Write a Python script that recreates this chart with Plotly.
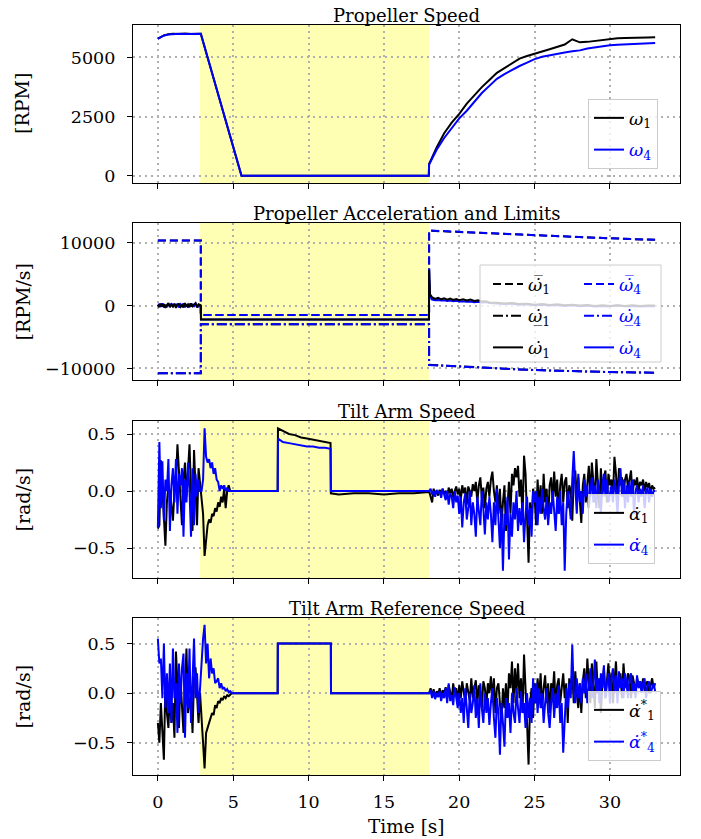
import numpy as np
import plotly.graph_objects as go

# ---------------- data ----------------
# Propeller speed [RPM]
omega_t = [0.0, 0.2, 0.4, 0.7, 1.0, 1.4, 1.8, 2.2, 2.6, 2.85, 5.55, 17.98, 18.0, 18.5, 19.0,
           19.5, 20.0, 20.5, 21.0, 21.5, 22.0, 22.5, 23.0, 23.5, 24.0, 24.5, 25.0, 25.5, 26.0, 26.5,
           27.0, 27.5, 28.0, 28.5, 29.0, 29.5, 30.0, 30.5, 31.0, 31.5, 32.0, 32.5, 33.0]
omega1 = [5800, 5870, 5930, 5980, 6000, 5990, 6010, 5990, 6010, 6000, 0, 0, 500, 1200, 1800,
          2250, 2620, 3050, 3400, 3750, 4050, 4350, 4550, 4750, 4950, 5060, 5170, 5250, 5350, 5450,
          5550, 5770, 5640, 5660, 5700, 5760, 5780, 5810, 5820, 5840, 5840, 5850, 5860]
omega4 = [5790, 5860, 5930, 5970, 5990, 6000, 5995, 6005, 5995, 6000, 0, 0, 480, 1100, 1600,
          2000, 2430, 2750, 3150, 3500, 3800, 4100, 4300, 4480, 4640, 4780, 4930, 5030, 5100, 5160,
          5210, 5260, 5300, 5380, 5430, 5450, 5520, 5540, 5560, 5580, 5590, 5600, 5610]

# Propeller acceleration limits [RPM/s]
lim_t = [0.0, 2.85, 2.85, 18.0, 18.0, 20.0, 22.0, 24.0, 26.0, 28.0, 30.0, 33.0]
upper1 = [10350, 10350, -1480, -1480, 11900, 11680, 11470, 11270, 11070, 10880, 10700, 10460]
upper4 = [10350, 10350, -1480, -1480, 11950, 11720, 11500, 11290, 11090, 10890, 10700, 10450]
lower1 = [-10770, -10770, -2970, -2970, -9420, -9700, -9940, -10150, -10320, -10460, -10570, -10670]
lower4 = [-10770, -10770, -2970, -2970, -9450, -9720, -9960, -10160, -10330, -10470, -10580, -10680]

# Propeller acceleration [RPM/s]
acc_pre_t = np.round(np.arange(0.0, 2.801, 0.1), 2)
acc1_pre = [150, -250, 300, -150, 250, -350, 100, 400, -250, 200,
            -150, 300, -350, 150, 250, -200, 100, -300, 400, -150,
            200, -250, 350, -100, 150, 400, -300, 200, 100]
acc4_pre = [-100, 300, -200, 350, -300, 150, -250, 300, -100, 350,
            -200, 250, -150, 300, -300, 200, -100, 350, -250, 150,
            -300, 300, -150, 250, -200, 350, 0, -150, 50]
acc_step_t = [2.85, 2.86, 17.99, 18.0, 18.06]
acc1_step = [0, -2200, -2200, 5700, 1800]
acc4_step = [0, -2220, -2220, 5900, 1500]
acc_post_t = [18.2, 18.4, 18.6, 18.8, 19.0, 19.2, 19.4, 19.6, 19.8, 20.0,
              20.25, 20.5, 20.75, 21.0, 21.25, 21.5, 21.75, 22.0, 22.5, 23.0,
              23.5, 24.0, 24.5, 25.0, 25.5, 26.0, 26.5, 27.0, 27.5, 28.0,
              28.5, 29.0, 29.5, 30.0, 30.5, 31.0, 31.5, 32.0, 32.5, 33.0]
acc1_post = [1300, 1050, 1250, 1000, 1150, 950, 1100, 900, 1050, 850,
             1000, 800, 950, 750, 850, 650, 700, 500, 450, 350,
             400, 250, 300, 150, 250, 100, 200, 50, 150, 0,
             100, -50, 50, -50, 50, -50, 50, -50, 0, 0]
acc4_post = [950, 850, 900, 800, 850, 750, 800, 700, 750, 650,
             700, 600, 650, 550, 600, 500, 550, 400, 350, 250,
             300, 150, 200, 50, 150, 0, 100, -50, 50, -100,
             0, -150, -50, -100, 0, -100, -50, -150, -50, -100]

# Tilt arm speed [rad/s]
tA = np.round(np.arange(0.0, 5.001, 0.1), 2)
tB = np.round(np.arange(18.0, 33.001, 0.1), 2)
alpha1_A = [-0.33, -0.3, 0.27, 0.0, -0.2, -0.48, -0.1, 0.05, 0.0, -0.15,
            -0.26, 0.0, 0.1, 0.41, 0.2, -0.1, -0.3, 0.1, 0.25, -0.05,
            0.15, 0.41, 0.0, -0.35, 0.36, 0.05, -0.3, 0.2, 0.05, -0.1,
            -0.2, -0.57, -0.4, -0.3, -0.25, -0.28, -0.2, -0.22, -0.15, -0.18,
            -0.1, -0.14, -0.05, -0.1, 0.02, -0.15, 0.0, 0.05, 0.0, 0.0, 0.0]
alpha4_A = [-0.32, 0.43, -0.15, 0.26, -0.26, 0.1, 0.0, 0.28, -0.35, 0.05,
            0.2, -0.1, 0.28, -0.2, 0.15, 0.05, 0.2, -0.4, 0.1, -0.1,
            0.25, 0.0, -0.4, 0.2, -0.3, 0.15, -0.05, 0.1, 0.0, 0.0,
            0.1, 0.55, 0.3, 0.25, 0.28, 0.2, 0.25, 0.15, 0.2, 0.1,
            0.08, 0.0, 0.05, 0.02, 0.05, 0.0, 0.03, 0.0, 0.0, 0.0, 0.0]
alpha_mid_t = [5.0, 7.95, 7.97, 8.3, 8.7, 9.1, 9.5, 9.9, 10.3, 10.7, 11.1, 11.46, 11.48,
               12.0, 13.0, 14.0, 15.0, 16.0, 17.0, 17.95]
alpha1_mid = [0.0, 0.0, 0.55, 0.53, 0.5, 0.49, 0.47, 0.46, 0.45, 0.44, 0.43, 0.42, -0.02,
              -0.03, -0.02, -0.02, -0.03, -0.02, -0.02, -0.01]
alpha4_mid = [0.0, 0.0, 0.46, 0.43, 0.42, 0.41, 0.4, 0.39, 0.39, 0.38, 0.38, 0.37, 0.0,
              0.0, 0.0, 0.0, 0.0, 0.0, 0.0, 0.0]
alpha1_B = [0.0, -0.05, -0.1, 0.02, -0.03, 0.0, -0.04, 0.01, -0.02, 0.02, -0.03,
            0.0, -0.05, 0.03, -0.02, 0.02, -0.06, 0.0, 0.04, -0.03, 0.02,
            -0.08, 0.05, -0.02, 0.03, -0.12, 0.04, 0.0, -0.05, 0.06, 0.0,
            0.08, -0.1, 0.05, 0.12, -0.06, 0.03, -0.15, 0.02, 0.08, -0.05,
            0.1, 0.17, 0.0, -0.1, 0.05, -0.2, 0.02, -0.3, -0.1, 0.05,
            -0.35, -0.1, 0.08, -0.2, 0.15, 0.05, 0.2, 0.12, 0.22, -0.05,
            0.1, -0.25, 0.31, 0.15, -0.2, -0.63, -0.1, -0.3, 0.02, -0.05,
            -0.3, 0.1, -0.15, 0.05, -0.2, 0.15, -0.1, 0.02, -0.25, 0.05,
            0.12, -0.1, 0.17, -0.05, 0.1, -0.2, 0.05, 0.15, -0.1, 0.08,
            0.12, -0.15, 0.05, 0.0, -0.26, 0.1, 0.18, -0.05, 0.12, -0.1,
            -0.28, 0.05, 0.15, -0.1, 0.1, 0.22, -0.05, 0.25, 0.08, -0.1,
            0.28, 0.05, -0.15, 0.2, -0.05, 0.12, 0.18, -0.1, 0.15, 0.05,
            0.1, -0.05, 0.3, 0.15, -0.08, 0.2, 0.05, 0.12, -0.05, 0.1,
            0.15, 0.02, 0.12, 0.18, -0.05, 0.1, 0.05, 0.12, 0.0, 0.08,
            0.05, 0.1, 0.0, 0.08, 0.03, 0.07, -0.02, 0.05, 0.02, 0.03]
alpha4_B = [0.0, 0.02, -0.03, 0.0, -0.05, 0.01, -0.02, 0.0, -0.06, 0.02, -0.04,
            -0.08, 0.0, -0.12, -0.02, -0.05, -0.15, 0.0, -0.1, -0.04, -0.2,
            -0.05, -0.32, -0.1, -0.02, -0.25, -0.15, 0.0, -0.3, -0.1, -0.2,
            -0.4, -0.05, -0.2, -0.3, 0.0, -0.15, -0.38, -0.1, -0.25, -0.05,
            -0.2, -0.45, -0.1, -0.3, 0.02, -0.25, -0.5, -0.15, -0.7, -0.2,
            -0.3, -0.05, -0.6, -0.2, -0.4, -0.1, -0.25, 0.0, -0.35, -0.15,
            -0.3, -0.1, -0.45, -0.2, -0.05, -0.3, -0.15, -0.4, 0.0, -0.1,
            0.0, -0.3, -0.05, -0.2, 0.02, -0.15, -0.25, -0.05, -0.3, -0.1,
            -0.2, 0.0, -0.15, -0.35, -0.05, -0.2, 0.0, -0.3, -0.1, -0.7,
            -0.2, 0.0, -0.1, -0.25, 0.1, 0.35, 0.05, -0.2, 0.15, -0.1,
            0.0, -0.2, 0.1, -0.05, 0.05, -0.15, 0.0, 0.12, -0.1, 0.05,
            -0.15, 0.1, 0.0, -0.2, 0.05, 0.15, -0.05, 0.1, -0.1, 0.0,
            0.05, -0.1, 0.1, 0.0, -0.2, 0.05, 0.2, -0.05, 0.1, -0.15,
            0.05, -0.1, 0.08, -0.05, 0.1, -0.2, 0.0, 0.05, -0.1, 0.02,
            -0.05, 0.05, -0.15, 0.0, 0.03, -0.1, 0.02, -0.05, 0.0, 0.0]

# Tilt arm reference speed [rad/s]
ref1_A = [-0.3, -0.5, -0.1, -0.45, -0.67, 0.12, -0.2, -0.35, 0.0, -0.3,
          -0.1, -0.45, 0.42, 0.1, -0.35, 0.15, -0.1, -0.4, 0.1, 0.45,
          -0.2, -0.1, 0.0, -0.4, 0.15, 0.26, -0.1, -0.3, 0.0, -0.2,
          -0.5, -0.76, -0.4, -0.35, -0.3, -0.25, -0.2, -0.22, -0.12, -0.15,
          -0.08, -0.1, -0.05, -0.07, -0.03, -0.05, -0.02, -0.03, -0.01, 0.0, 0.0]
ref4_A = [0.55, 0.3, 0.35, -0.05, 0.5, -0.15, 0.2, -0.2, 0.3, -0.3,
          0.45, -0.05, 0.1, -0.4, 0.3, -0.1, 0.25, 0.4, -0.45, 0.2,
          -0.15, 0.45, -0.3, 0.1, 0.55, -0.05, 0.2, -0.2, 0.1, 0.3,
          0.55, 0.69, 0.3, 0.5, 0.15, 0.35, 0.2, 0.25, 0.1, 0.12,
          0.15, 0.05, 0.1, 0.04, 0.06, 0.02, 0.04, 0.01, 0.02, 0.0, 0.0]
ref_mid_t = [5.0, 7.95, 7.96, 11.48, 11.49, 17.95]
ref1_mid = [0.0, 0.0, 0.5, 0.5, 0.0, 0.0]
ref4_mid = [0.0, 0.0, 0.5, 0.5, 0.0, 0.0]
ref1_B = [0.0, 0.05, -0.03, 0.04, -0.05, 0.02, -0.02, 0.05, -0.04, 0.03, 0.0,
          0.06, -0.05, 0.08, 0.0, -0.06, 0.1, -0.02, 0.05, -0.08, 0.08,
          -0.05, 0.12, 0.0, -0.1, 0.1, 0.02, -0.08, 0.15, -0.05, 0.05,
          0.13, -0.1, 0.08, 0.0, -0.15, 0.12, 0.05, -0.12, 0.1, 0.0,
          0.17, -0.05, 0.15, -0.2, 0.05, 0.1, -0.1, -0.3, 0.05, -0.15,
          0.1, -0.2, 0.2, 0.05, 0.32, -0.1, 0.25, 0.0, 0.3, -0.05,
          0.15, -0.2, 0.39, 0.1, -0.3, -0.72, -0.1, 0.05, -0.25, 0.1,
          -0.1, 0.15, -0.05, 0.2, -0.15, 0.05, 0.18, -0.1, 0.1, -0.2,
          0.1, 0.0, 0.22, -0.15, 0.08, 0.15, -0.1, 0.05, 0.2, -0.05,
          0.1, -0.3, 0.15, 0.05, 0.2, -0.1, 0.22, 0.0, -0.15, 0.1,
          -0.2, 0.12, 0.25, -0.05, 0.35, 0.1, -0.1, 0.3, 0.05, -0.15,
          0.32, 0.0, 0.15, -0.2, 0.1, 0.25, -0.05, 0.12, 0.3, 0.05,
          0.2, -0.1, 0.15, 0.32, 0.0, 0.1, 0.2, -0.05, 0.3, 0.1,
          0.05, 0.2, 0.15, -0.05, 0.18, 0.1, 0.0, 0.15, 0.08, 0.12,
          0.05, 0.15, 0.02, 0.1, 0.12, 0.0, 0.08, 0.15, 0.05, 0.1]
ref4_B = [0.0, 0.03, -0.05, 0.02, -0.06, 0.0, -0.04, 0.02, -0.08, 0.0, -0.05,
          0.05, -0.1, 0.1, -0.08, -0.02, -0.12, 0.06, -0.05, -0.15, 0.0,
          -0.2, -0.05, -0.3, 0.05, -0.15, -0.35, 0.0, -0.2, -0.1, 0.08,
          -0.25, -0.05, -0.35, 0.1, -0.15, -0.3, 0.0, -0.2, -0.05, -0.32,
          -0.1, 0.05, -0.25, -0.45, -0.05, -0.2, -0.62, -0.1, -0.3, -0.54,
          -0.05, -0.25, -0.1, -0.4, 0.0, -0.2, -0.3, 0.05, -0.15, -0.3,
          0.02, -0.2, -0.1, -0.35, 0.0, -0.25, -0.05, -0.3, 0.15, -0.1,
          0.1, -0.2, 0.05, -0.15, 0.0, -0.3, -0.1, 0.05, -0.2, -0.35,
          -0.1, 0.05, -0.25, 0.0, -0.15, 0.08, -0.3, -0.1, -0.6, -0.2,
          0.05, -0.15, 0.1, -0.05, 0.49, 0.0, -0.1, 0.15, -0.05, 0.1,
          -0.1, 0.15, 0.0, 0.2, -0.1, 0.05, 0.25, -0.05, 0.1, 0.34,
          0.0, 0.15, -0.1, 0.2, 0.05, 0.28, -0.05, 0.1, 0.2, -0.1,
          0.15, 0.25, 0.0, 0.18, -0.1, 0.22, 0.05, 0.15, -0.05, 0.2,
          0.1, -0.05, 0.15, 0.2, 0.0, 0.1, -0.05, 0.18, 0.05, 0.12,
          0.0, 0.1, 0.15, -0.05, 0.08, 0.12, 0.0, 0.05, 0.1, 0.02]

shade_start, shade_end = 2.8, 18.0
x_ticks = [0, 5, 10, 15, 20, 25, 30]

# ---------------- figure ----------------
FONT = "DejaVu Serif"
FS = 17.5
BLACK, BLUE = "#000000", "#0000ff"
LW = 2
fig = go.Figure()
SUF = ["", "2", "3", "4"]


def cat(*parts):
    return np.concatenate([np.asarray(p, dtype=float) for p in parts])


def line(x, y, color, name, i, legend, dash="solid", show=True):
    fig.add_trace(go.Scatter(
        x=x, y=y, mode="lines", name=name, showlegend=show, legend=legend,
        legendgroup=name, xaxis="x" + SUF[i], yaxis="y" + SUF[i],
        line=dict(color=color, width=LW, dash=dash)))


def blue(s):
    return "<span style='color:#0000ff'>" + s + "</span>"


W = "\u03c9"
A = "\u03b1"
DOT = "\u0307"
DASH = "8px,4px"
DASHDOT = "10px,3px,2px,3px"

# plot 1
line(omega_t, omega1, BLACK, "<i>" + W + "</i><sub>1</sub>", 0, "legend")
line(omega_t, omega4, BLUE, blue("<i>" + W + "</i><sub>4</sub>"), 0, "legend")

# plot 2
acc_t = cat(acc_pre_t, acc_step_t, acc_post_t)
line(lim_t, upper1, BLACK, "<i>" + W + DOT + "\u0305</i><sub>1</sub>", 1, "legend2", DASH)
line(lim_t, lower1, BLACK, "<i>" + W + DOT + "\u0332</i><sub>1</sub>", 1, "legend2", DASHDOT)
line(lim_t, upper4, BLUE, "<i>" + W + DOT + "\u0305</i><sub>4</sub>", 1, "legend3", DASH)
line(lim_t, lower4, BLUE, "<i>" + W + DOT + "\u0332</i><sub>4</sub>", 1, "legend3", DASHDOT)
line(acc_t, cat(acc4_pre, acc4_step, acc4_post), BLUE, "<i>" + W + DOT + "</i><sub>4</sub>", 1, "legend3")
line(acc_t, cat(acc1_pre, acc1_step, acc1_post), BLACK, "<i>" + W + DOT + "</i><sub>1</sub>", 1, "legend2")

# plot 3
al_t = cat(tA, alpha_mid_t, tB)
line(al_t, cat(alpha1_A, alpha1_mid, alpha1_B), BLACK, "<i>" + A + DOT + "</i><sub>1</sub>", 2, "legend4")
line(al_t, cat(alpha4_A, alpha4_mid, alpha4_B), BLUE, blue("<i>" + A + DOT + "</i><sub>4</sub>"), 2, "legend4")

# plot 4
rf_t = cat(tA, ref_mid_t, tB)
line(rf_t, cat(ref1_A, ref1_mid, ref1_B), BLACK, "<i>" + A + DOT + "</i><sup>*</sup><sub>1</sub>", 3, "legend5")
line(rf_t, cat(ref4_A, ref4_mid, ref4_B), BLUE, blue("<i>" + A + DOT + "</i><sup>*</sup><sub>4</sub>"), 3, "legend5")

# geometry (page pixels; the page body margin is removed after plotting)
WIDTH, HEIGHT = 701, 839
ML, MT = 133, 25
MR = WIDTH - 680
MB = HEIGHT - 775
PH = HEIGHT - MT - MB
PW = WIDTH - ML - MR
tops = [25, 223, 421, 618]
bots = [183, 380, 578, 775]


def py(p):
    return (HEIGHT - MB - p) / PH


def px(p):
    return (p - ML) / PW


yranges = [[-303, 6373], [-11835, 13135], [-0.763, 0.614], [-0.825, 0.758]]
ytickvals = [[0, 2500, 5000], [-10000, 0, 10000], [-0.5, 0.0, 0.5], [-0.5, 0.0, 0.5]]
yfmt = ["d", "d", ".1f", ".1f"]
titles = ["Propeller Speed", "Propeller Acceleration and Limits", "Tilt Arm Speed",
          "Tilt Arm Reference Speed"]
ylabels = ["[RPM]", "[RPM/s]", "[rad/s]", "[rad/s]"]

axcommon = dict(showline=True, linecolor="black", linewidth=1.2, mirror=True,
                ticks="outside", ticklen=5, tickwidth=1.2, tickcolor="black",
                showgrid=True, gridcolor="#b0b0b0", gridwidth=1.5, griddash="2px,4px",
                zeroline=False, automargin=False,
                tickfont=dict(family=FONT, size=FS, color="black"))

annotations = []
shapes = []
for i in range(4):
    s = SUF[i]
    xd = dict(axcommon, domain=[0, 1], range=[-1.65, 34.65], anchor="y" + s,
              tickvals=x_ticks, showticklabels=(i == 3), ticklabelstandoff=6)
    if i < 3:
        xd["matches"] = "x4"
    fig.layout["xaxis" + s] = xd
    fig.layout["yaxis" + s] = dict(
        axcommon, domain=[py(bots[i]), py(tops[i])], range=yranges[i], anchor="x" + s,
        tickvals=ytickvals[i], tickformat=yfmt[i], ticklabelstandoff=8)
    annotations.append(dict(text=titles[i], xref="paper", yref="paper", x=0.5, y=py(tops[i]),
                            xanchor="center", yanchor="bottom", yshift=-3, showarrow=False,
                            font=dict(family=FONT, size=18, color="black")))
    annotations.append(dict(text=ylabels[i], xref="paper", yref="paper", x=px(22),
                            y=(py(tops[i]) + py(bots[i])) / 2, textangle=-90,
                            xanchor="center", yanchor="middle",
                            showarrow=False, font=dict(family=FONT, size=19, color="black")))
    shapes.append(dict(type="rect", xref="x" + s, yref="y" + s + " domain",
                       x0=shade_start, x1=shade_end, y0=0, y1=1, layer="below",
                       fillcolor="#ffffb3", line=dict(width=0)))

annotations.append(dict(text="Time [s]", xref="paper", yref="paper", x=0.5, y=py(826),
                        xanchor="center", yanchor="middle",
                        showarrow=False, font=dict(family=FONT, size=18.5, color="black")))

# box around the two-column legend of plot 2
shapes.append(dict(type="rect", xref="paper", yref="paper", x0=px(480), x1=px(661),
                   y0=py(362), y1=py(265), layer="above",
                   fillcolor="rgba(255,255,255,0.8)", line=dict(color="#cccccc", width=1)))

leg_common = dict(font=dict(family=FONT, size=FS, color="black"), xanchor="left",
                  yanchor="top", traceorder="grouped", tracegroupgap=6)
boxed = dict(bgcolor="rgba(255,255,255,0.8)", bordercolor="#cccccc", borderwidth=1)
plain = dict(bgcolor="rgba(0,0,0,0)", borderwidth=0)

fig.update_layout(
    width=WIDTH, height=HEIGHT, margin=dict(l=ML, r=MR, t=MT, b=MB, autoexpand=False),
    paper_bgcolor="white", plot_bgcolor="white",
    font=dict(family=FONT, size=FS, color="black"),
    annotations=annotations, shapes=shapes,
    legend=dict(leg_common, **boxed, x=px(588), y=py(99)),
    legend2=dict(leg_common, **plain, x=px(488), y=py(266)),
    legend3=dict(leg_common, **plain, x=px(579), y=py(266)),
    legend4=dict(leg_common, **boxed, x=px(588), y=py(494)),
    legend5=dict(leg_common, **boxed, x=px(588), y=py(691)),
)
fig.layout.legend3.font.color = BLUE

fig.write_html("out.html", config={"displayModeBar": False},
               post_script="document.body.style.margin='0px';")
